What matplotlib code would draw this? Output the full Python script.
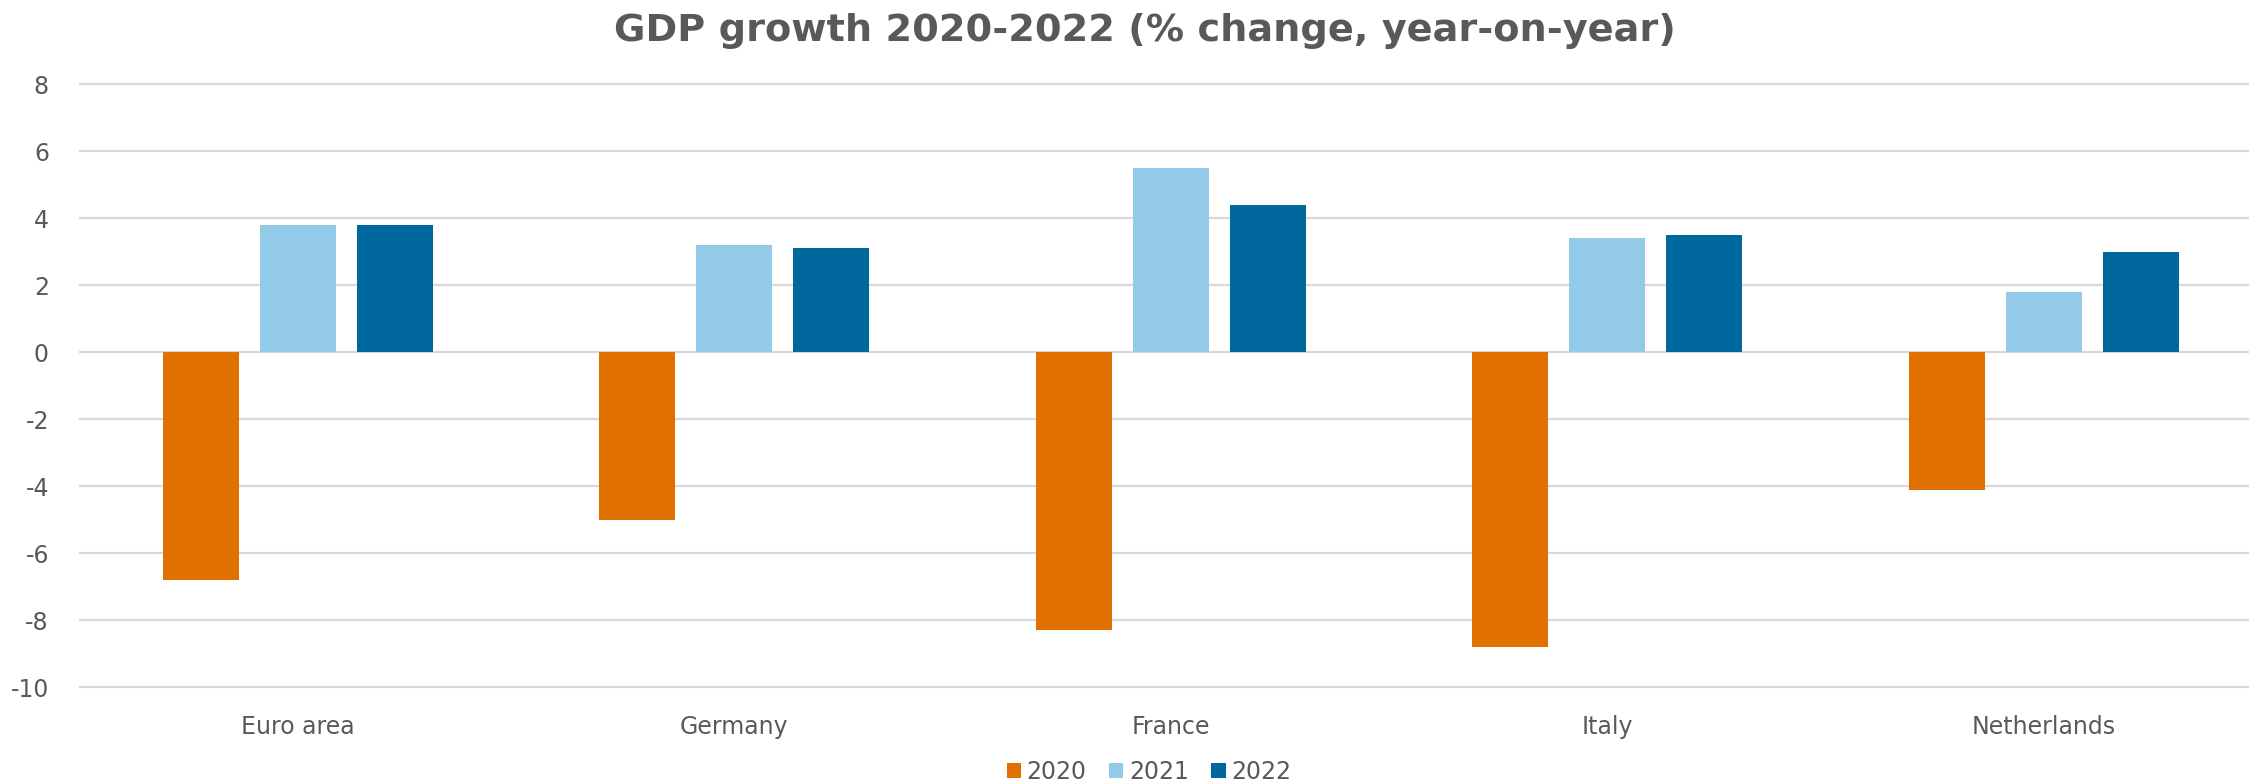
import matplotlib
matplotlib.use("Agg")
import matplotlib.pyplot as plt
import numpy as np
from matplotlib.patches import Patch

# GDP growth, % change year-on-year
countries = ["Euro area", "Germany", "France", "Italy", "Netherlands"]
years = ["2020", "2021", "2022"]
growth_2020 = [-6.8, -5.0, -8.3, -8.8, -4.1]
growth_2021 = [3.8, 3.2, 5.5, 3.4, 1.8]
growth_2022 = [3.8, 3.1, 4.4, 3.5, 3.0]
y_ticks = [8, 6, 4, 2, 0, -2, -4, -6, -8, -10]

colors = ["#E07000", "#92CAE8", "#00689D"]
text_color = "#595959"
grid_color = "#D9D9D9"

plt.rcParams["font.family"] = ["DejaVu Sans"]

W, H = 2249, 784
fig = plt.figure(figsize=(W / 100, H / 100), dpi=100)
left, right = 79.5, 2249
top, bottom = 84.3, 687.3
ax = fig.add_axes([left / W, 1 - bottom / H, (right - left) / W, (bottom - top) / H])

x = np.arange(len(countries))
width = 0.174
offset = 0.222
series = [growth_2020, growth_2021, growth_2022]
for i, (vals, col) in enumerate(zip(series, colors)):
    ax.bar(x + (i - 1) * offset, vals, width=width, color=col, zorder=3)

ax.set_xlim(-0.5, 4.47)
ax.set_ylim(-10, 8)
ax.set_yticks(y_ticks)
ax.set_yticklabels([str(t) for t in y_ticks])
ax.set_xticks(x)
ax.set_xticklabels(countries)

ax.yaxis.grid(True, color=grid_color, linewidth=1.6, zorder=0)
ax.xaxis.grid(False)
for line in ax.get_ygridlines():
    line.set_clip_on(False)
for s in ax.spines.values():
    s.set_visible(False)
ax.tick_params(axis="both", length=0, colors=text_color, labelsize=17)
ax.tick_params(axis="y", pad=22)
ax.tick_params(axis="x", pad=20)

fig.text(1145 / W, 1 - 31 / H, "GDP growth 2020-2022 (% change, year-on-year)",
         ha="center", va="center", fontsize=27.5, fontweight="bold", color=text_color)

handles = [Patch(facecolor=c, edgecolor="none") for c in colors]
leg = fig.legend(handles, years, loc="center", bbox_to_anchor=(1149 / W, 1 - 772 / H),
                 ncol=3, frameon=False, fontsize=17, handlelength=0.6, handleheight=0.6,
                 handletextpad=0.25, columnspacing=0.95, labelcolor=text_color)

fig.savefig("out.png", dpi=100, facecolor="white")
